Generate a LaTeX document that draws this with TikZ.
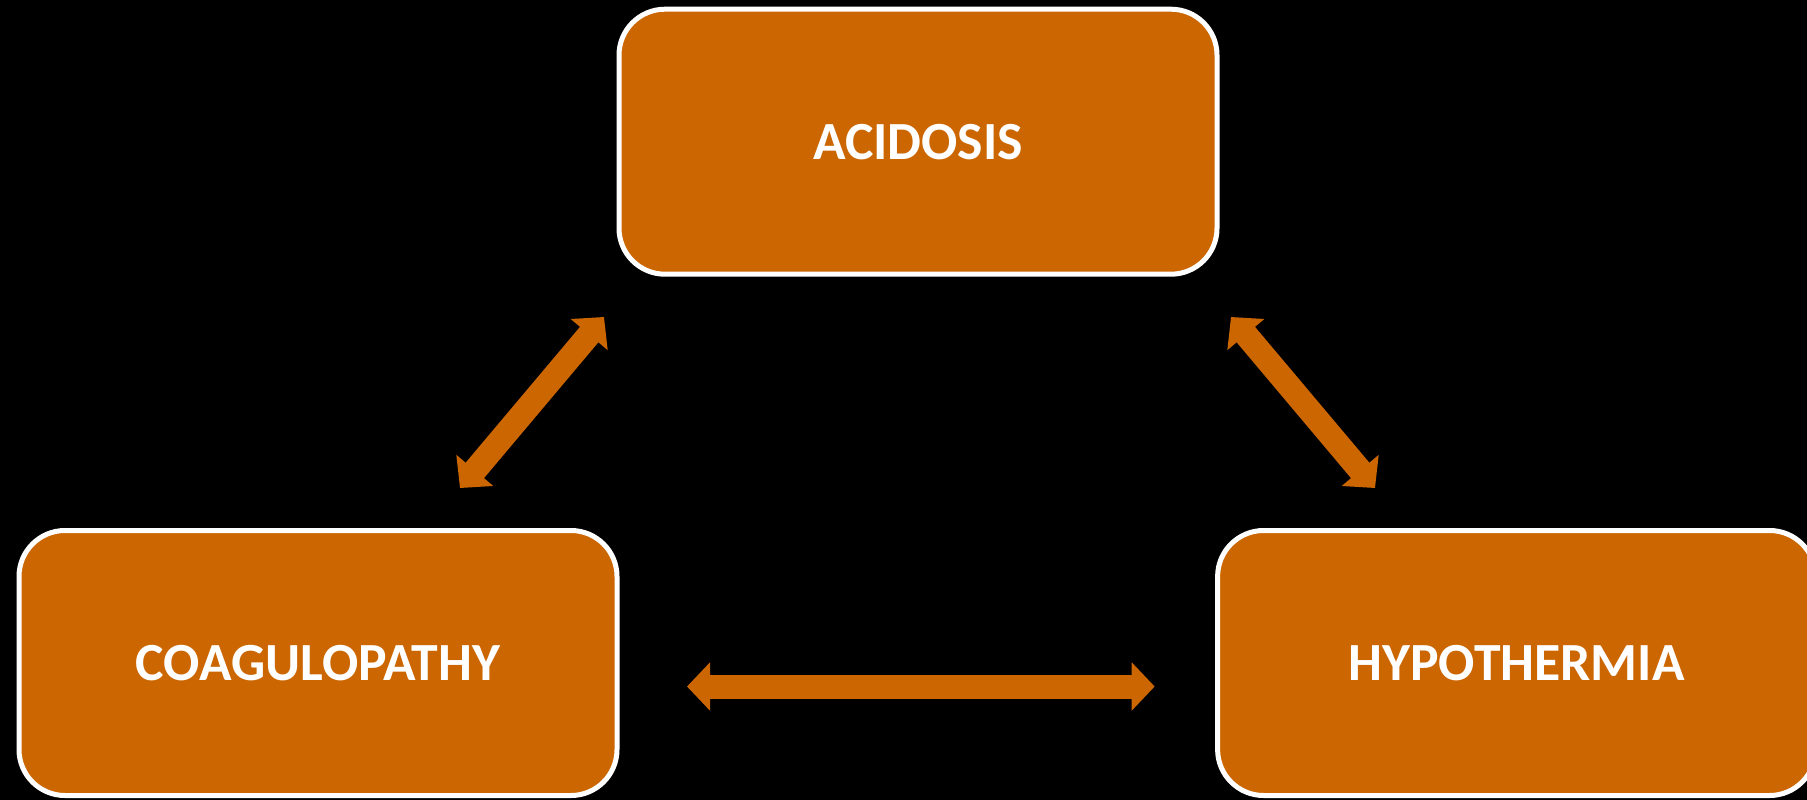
\documentclass[tikz,border=0pt]{standalone}
\usepackage{fontspec}
\setmainfont{Carlito}
\usetikzlibrary{arrows.meta}
\definecolor{boxorange}{RGB}{204,102,0}
\definecolor{edgeorange}{RGB}{150,70,0}
\tikzset{
  x=1pt, y=-1pt,
  statebox/.style={draw=white, line width=5pt, fill=boxorange, rounded corners=46pt,
    minimum width=598pt, minimum height=265pt, inner sep=0pt,
    text=white, font=\fontsize{53.7}{60}\selectfont\bfseries},
  fatarrow/.style={draw=boxorange, line width=24pt, line cap=butt,
    arrows={Triangle[length=23pt, width=47pt, fill=boxorange]-Triangle[length=23pt, width=47pt, fill=boxorange]}}
}
\begin{document}
\begin{tikzpicture}
\fill[black] (0,0) rectangle (1807,800);
\useasboundingbox (0,0) rectangle (1807,800);
\clip (0,0) rectangle (1807,800);
\node[statebox] (acid) at (918,141.7) {ACIDOSIS};
\node[statebox] (coag) at (318,663) {COAGULOPATHY};
\node[statebox] (hypo) at (1516.6,663) {HYPOTHERMIA};
\coordinate (a1) at (460,488);
\coordinate (a2) at (604,317);
\coordinate (b1) at (1231,317);
\coordinate (b2) at (1375,488);
\coordinate (c1) at (687,686.5);
\coordinate (c2) at (1154.7,686.5);
\draw[fatarrow] (a1) -- (a2);
\draw[fatarrow] (b1) -- (b2);
\draw[fatarrow] (c1) -- (c2);
\end{tikzpicture}
\end{document}
